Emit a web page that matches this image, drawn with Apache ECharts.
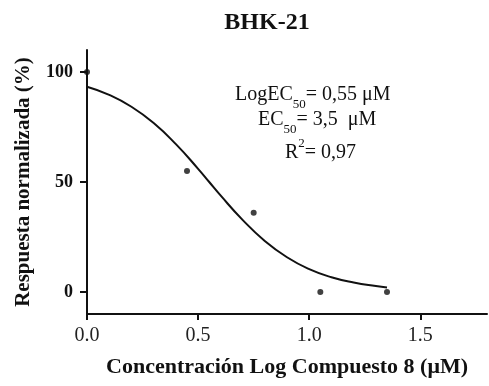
<!DOCTYPE html>
<html>
<head>
<meta charset="utf-8">
<script src="https://cdn.jsdelivr.net/npm/echarts@6/dist/echarts.min.js"></script>
<style>
  html, body { margin: 0; padding: 0; background: #ffffff; }
  #chart { width: 489px; height: 386px; }
</style>
</head>
<body>
<div id="chart"></div>
<script>
// Measured responses (log concentration, normalized response %)
const doseLog = [0.0, 0.45, 0.75, 1.05, 1.35];
const response = [100, 55, 36, 0, 0];

// Fitted dose-response curve, sampled along the x range
const fitX = [0.0, 0.1, 0.2, 0.3, 0.4, 0.5, 0.55, 0.6, 0.7, 0.8, 0.9, 1.0, 1.1, 1.2, 1.3, 1.35];
const fitY = [93.3, 89.6, 84.2, 76.8, 67.2, 56.0, 50.0, 44.0, 32.8, 23.2, 15.8, 10.4, 6.7, 4.3, 2.7, 2.1];

const xTicks = [0, 0.5, 1.0, 1.5];
const yTicks = [0, 50, 100];

const titleText = 'BHK-21';
const xTitle = 'Concentración Log Compuesto 8 (μM)';
const yTitle = 'Respuesta normalizada (%)';

const serif = '"Liberation Serif", "Times New Roman", serif';
const ink = '#111111';

const chart = echarts.init(document.getElementById('chart'), null, { renderer: 'canvas' });

const subStyle = { fontFamily: serif, fontSize: 13, color: ink, verticalAlign: 'bottom', padding: [0, 0, -6, 0] };
const supStyle = { fontFamily: serif, fontSize: 13, color: ink, verticalAlign: 'top', padding: [-6, 0, 0, 0] };

function statText(x, y, text) {
  return {
    type: 'text',
    left: x,
    top: y,
    style: {
      text: text,
      fontFamily: serif,
      fontSize: 20,
      fill: ink,
      rich: { sub: subStyle, sup: supStyle }
    }
  };
}

chart.setOption({
  animation: false,
  backgroundColor: '#ffffff',
  title: {
    text: titleText,
    left: 262,
    top: 6,
    textAlign: 'center',
    textStyle: { fontFamily: serif, fontWeight: 'bold', fontSize: 24, color: ink }
  },
  grid: { left: 87, right: 2, top: 50, bottom: 72, containLabel: false },
  xAxis: {
    type: 'value',
    min: 0,
    max: 1.8,
    name: xTitle,
    nameLocation: 'middle',
    nameGap: 42,
    nameTextStyle: { fontFamily: serif, fontWeight: 'bold', fontSize: 22, color: ink },
    axisLine: { show: true, onZero: false, lineStyle: { color: ink, width: 2 } },
    axisTick: { show: true, length: 6, lineStyle: { color: ink, width: 2 }, customValues: xTicks },
    axisLabel: {
      customValues: xTicks,
      formatter: v => v.toFixed(1),
      fontFamily: serif, fontSize: 20, color: '#222222', margin: 12
    },
    splitLine: { show: false }
  },
  yAxis: {
    type: 'value',
    min: -10,
    max: 110,
    name: yTitle,
    nameLocation: 'middle',
    nameGap: 53,
    nameRotate: 90,
    nameTextStyle: { fontFamily: serif, fontWeight: 'bold', fontSize: 21, color: ink },
    axisLine: { show: true, onZero: false, lineStyle: { color: ink, width: 2 } },
    axisTick: { show: true, length: 7, lineStyle: { color: ink, width: 2 }, customValues: yTicks },
    axisLabel: {
      customValues: yTicks,
      fontFamily: serif, fontWeight: 'bold', fontSize: 18, color: ink, margin: 14
    },
    splitLine: { show: false }
  },
  series: [
    {
      type: 'line',
      data: fitX.map((x, i) => [x, fitY[i]]),
      smooth: true,
      showSymbol: false,
      lineStyle: { color: ink, width: 2 },
      z: 2
    },
    {
      type: 'scatter',
      data: doseLog.map((x, i) => [x, response[i]]),
      symbol: 'circle',
      symbolSize: 6,
      itemStyle: { color: ink },
      clip: false,
      z: 3
    }
  ],
  graphic: [
    statText(235, 85, 'LogEC{sub|50}= 0,55 μM'),
    statText(258, 110, 'EC{sub|50}= 3,5  μM'),
    statText(285, 137, 'R{sup|2}= 0,97')
  ]
});
</script>
</body>
</html>
